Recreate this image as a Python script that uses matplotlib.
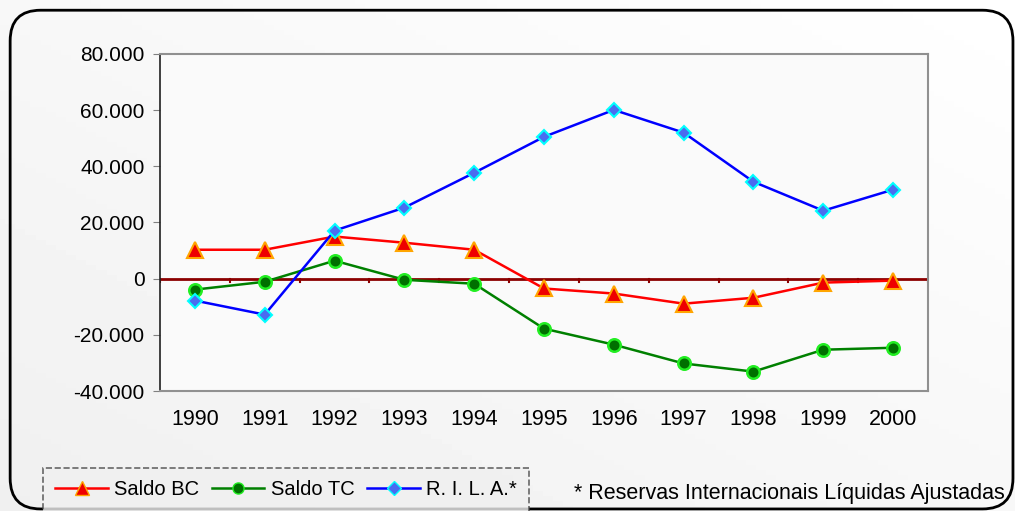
import numpy as np
import matplotlib
matplotlib.use("Agg")
import matplotlib.pyplot as plt
from matplotlib.patches import FancyBboxPatch
from matplotlib.lines import Line2D
from matplotlib.ticker import FuncFormatter

plt.rcParams['font.family'] = ['Liberation Sans', 'DejaVu Sans']

years = ['1990', '1991', '1992', '1993', '1994', '1995', '1996', '1997', '1998', '1999', '2000']
saldo_bc = [10300, 10300, 15000, 12800, 10300, -3500, -5300, -8900, -6800, -1400, -700]
saldo_tc = [-3900, -1100, 6400, -400, -1800, -17800, -23500, -30200, -33100, -25300, -24600]
rila = [-7800, -12800, 17100, 25300, 37700, 50500, 60100, 52000, 34500, 24200, 31700]

fig = plt.figure(figsize=(10.15, 5.11), dpi=100)

# gradient background
bg = fig.add_axes([0, 0, 1, 1], zorder=-10)
gx, gy = np.meshgrid(np.linspace(0, 1, 200), np.linspace(0, 1, 100))
grad = 0.94 + 0.06 * (0.5 * gx + 0.5 * (1 - gy))
bg.imshow(grad, cmap='gray', vmin=0, vmax=1, extent=[0, 1, 0, 1], aspect='auto')
bg.set_xlim(0, 1)
bg.set_ylim(0, 1)
bg.axis('off')

frame = FancyBboxPatch((0.010, 0.004), 0.988, 0.976,
                       boxstyle="round,pad=0,rounding_size=0.03",
                       transform=fig.transFigure, fill=False,
                       edgecolor='black', linewidth=2, mutation_aspect=2.0)
fig.patches.append(frame)

ax = fig.add_axes([160 / 1015, 1 - 391 / 511, 768 / 1015, 337 / 511])
ax.set_facecolor('#fafafa')
x = np.arange(len(years))

ax.axhline(0, color='#8b0000', lw=2, zorder=2)
for b in np.arange(-0.5, len(years), 1.0):
    ax.plot([b, b], [0, -1300], color='#8b0000', lw=1.5, zorder=2)

ax.plot(x, saldo_bc, color='#ff0000', lw=1.8, marker='^', ms=11,
        mfc='#ee0000', mec='#ffa500', mew=1.5, zorder=3)
ax.plot(x, saldo_tc, color='#008000', lw=1.8, marker='o', ms=9,
        mfc='#007000', mec='#22ee22', mew=1.8, zorder=3)
ax.plot(x, rila, color='#0000ff', lw=1.8, marker='D', ms=7.5,
        mfc='#4a6cf0', mec='#00ffff', mew=1.5, zorder=4)

ax.set_xlim(-0.5, len(years) - 0.5)
ax.set_ylim(-40000, 80000)
ax.set_yticks(np.arange(-40000, 80001, 20000))
ax.yaxis.set_major_formatter(FuncFormatter(lambda v, p: f"{int(v):,}".replace(',', '.')))
ax.set_xticks(x)
ax.set_xticklabels(years)
ax.tick_params(axis='x', length=0, pad=13, labelsize=15.5)
ax.tick_params(axis='y', length=5, color='#808080', labelsize=15, pad=6)
for s in ['top', 'right', 'bottom']:
    ax.spines[s].set_color('#909090')
    ax.spines[s].set_linewidth(1.5)
ax.spines['left'].set_color('#202020')
ax.spines['left'].set_linewidth(1.2)

handles = [
    Line2D([], [], color='#ff0000', lw=1.8, marker='^', ms=10, mfc='#ee0000', mec='#ffa500'),
    Line2D([], [], color='#008000', lw=1.8, marker='o', ms=8, mfc='#007000', mec='#22ee22'),
    Line2D([], [], color='#0000ff', lw=1.8, marker='D', ms=7, mfc='#4a6cf0', mec='#00ffff'),
]
leg = fig.legend(handles, ['Saldo BC', 'Saldo TC', 'R. I. L. A.*'], ncol=3,
                 loc='upper left', bbox_to_anchor=(43 / 1015, 1 - 468 / 511),
                 frameon=True, fontsize=14.5, handlelength=2.6, handletextpad=0.3,
                 columnspacing=0.65, borderpad=0.62, borderaxespad=0, fancybox=False)
leg.get_frame().set_edgecolor('#444444')
leg.get_frame().set_linestyle('--')
leg.get_frame().set_linewidth(1.2)
leg.get_frame().set_facecolor('#f0f0f0')

fig.text(1005 / 1015, 1 - 493 / 511, '* Reservas Internacionais Líquidas Ajustadas',
         ha='right', va='center', fontsize=15.5)

fig.savefig('out.png', dpi=100)
